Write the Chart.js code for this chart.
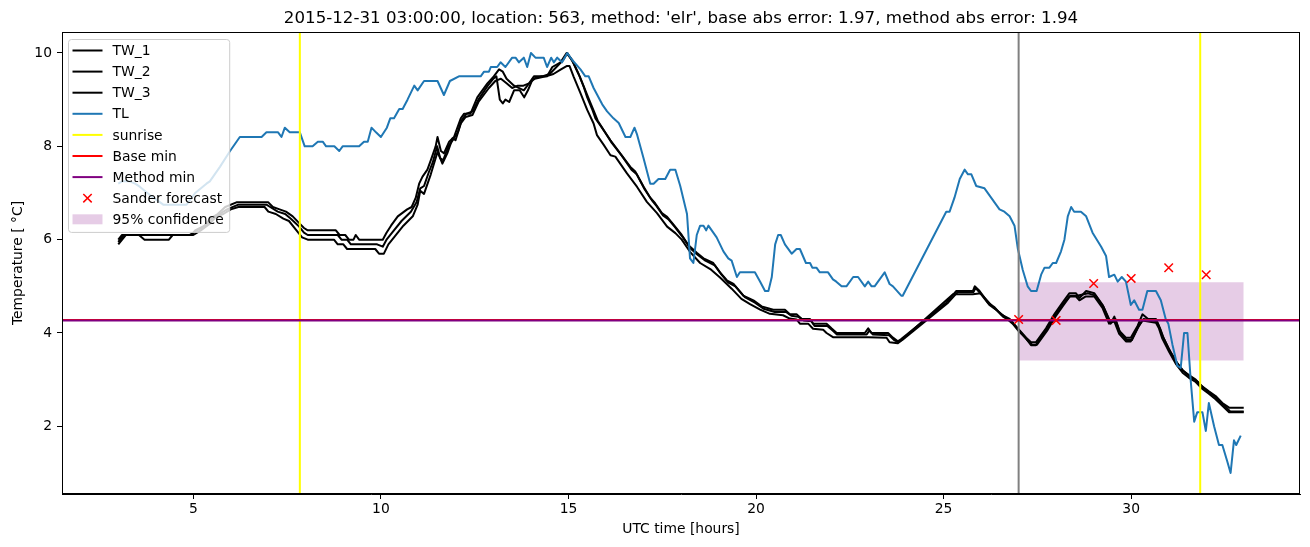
<!DOCTYPE html>
<html>
<head>
<meta charset="utf-8">
<script src="https://cdn.jsdelivr.net/npm/chart.js@4.4.0/dist/chart.umd.min.js"></script>
<style>html,body{margin:0;padding:0;background:#fff;}canvas{display:block;}</style>
</head>
<body>
<canvas id="c" width="1310" height="547"></canvas>
<script>
const titleText = "2015-12-31 03:00:00, location: 563, method: 'elr', base abs error: 1.97, method abs error: 1.94";
const xLabel = "UTC time [hours]";
const yLabel = "Temperature [ \u00B0C]";
const xTicks = [5, 10, 15, 20, 25, 30];
const yTicks = [2, 4, 6, 8, 10];
const xRange = [1.5, 34.5];
const yRange = [0.55, 10.45];

const tlTime = [3.00,3.10,3.30,3.45,3.58,3.85,4.20,4.82,5.05,5.35,5.44,5.71,5.98,6.24,6.82,6.95,7.26,7.35,7.44,7.57,7.84,7.97,8.18,8.32,8.45,8.54,8.76,8.89,8.98,9.42,9.55,9.65,9.75,9.87,10.00,10.16,10.25,10.35,10.49,10.58,10.71,10.89,10.98,11.15,11.51,11.68,11.84,12.08,12.66,12.75,12.88,12.93,13.10,13.19,13.32,13.50,13.59,13.68,13.81,13.90,14.00,14.12,14.34,14.43,14.54,14.61,14.70,14.83,14.97,15.10,15.32,15.45,15.54,15.67,15.90,16.03,16.20,16.34,16.52,16.65,16.76,16.83,17.00,17.18,17.27,17.40,17.58,17.71,17.85,17.98,18.16,18.24,18.33,18.42,18.51,18.60,18.67,18.73,18.95,19.13,19.26,19.35,19.49,19.57,19.97,20.11,20.24,20.33,20.42,20.51,20.59,20.66,20.77,20.95,21.08,21.17,21.33,21.44,21.50,21.61,21.70,21.92,22.05,22.14,22.28,22.41,22.59,22.72,22.90,22.99,23.08,23.16,23.43,23.56,23.65,23.87,23.91,25.07,25.16,25.29,25.43,25.56,25.65,25.74,25.87,26.09,26.49,26.62,26.76,26.89,26.98,27.11,27.24,27.33,27.48,27.60,27.69,27.82,27.91,28.00,28.13,28.22,28.31,28.40,28.48,28.66,28.80,28.97,29.20,29.33,29.41,29.55,29.64,29.75,29.86,29.99,30.08,30.21,30.30,30.43,30.52,30.66,30.79,30.92,30.99,31.10,31.23,31.32,31.41,31.50,31.59,31.68,31.76,31.90,31.99,32.07,32.21,32.34,32.43,32.56,32.65,32.74,32.80,32.92];
const tlTemp = [7.2,7.25,7.25,7.2,7.13,6.95,6.75,6.75,7.0,7.2,7.25,7.56,7.9,8.2,8.2,8.3,8.3,8.2,8.4,8.3,8.3,8.0,8.0,8.1,8.1,8.0,8.0,7.9,8.0,8.0,8.1,8.1,8.4,8.3,8.2,8.4,8.6,8.6,8.8,8.8,9.0,9.3,9.2,9.4,9.4,9.1,9.4,9.5,9.5,9.6,9.6,9.7,9.7,9.8,9.7,9.9,9.9,9.8,9.9,9.7,10.0,9.9,9.9,9.7,9.9,9.8,9.9,9.8,10.0,9.85,9.65,9.5,9.5,9.25,8.9,8.75,8.6,8.5,8.2,8.2,8.4,8.25,7.75,7.2,7.2,7.3,7.3,7.5,7.5,7.15,6.55,5.6,5.5,6.1,6.3,6.3,6.2,6.3,6.05,5.75,5.6,5.55,5.2,5.3,5.3,5.1,4.9,4.9,5.2,5.9,6.1,6.1,5.9,5.7,5.8,5.8,5.5,5.5,5.4,5.4,5.3,5.3,5.15,5.1,5.0,5.0,5.2,5.2,5.0,5.1,5.0,5.0,5.3,5.05,5.0,4.8,4.8,6.6,6.6,6.9,7.3,7.5,7.4,7.4,7.15,7.1,6.65,6.6,6.5,6.3,5.8,5.35,5.0,4.9,4.9,5.25,5.4,5.4,5.5,5.5,5.75,6.0,6.5,6.7,6.6,6.6,6.5,6.15,5.85,5.65,5.2,5.25,5.1,5.2,5.1,4.6,4.7,4.5,4.5,4.9,4.9,4.9,4.7,4.3,4.2,3.75,3.3,3.25,4.0,4.0,2.95,2.1,2.3,2.3,1.9,2.5,2.0,1.6,1.6,1.25,1.0,1.7,1.6,1.8];

const tw1Time = [3.00,3.15,4.95,5.05,5.30,5.45,5.65,5.85,6.15,7.00,7.12,7.30,7.47,7.65,7.83,7.95,8.05,8.80,8.90,9.05,9.15,9.27,9.33,9.42,10.05,10.15,10.27,10.45,10.70,10.82,10.93,11.02,11.11,11.24,11.33,11.46,11.51,11.60,11.68,11.82,11.95,12.04,12.13,12.22,12.39,12.57,12.84,13.01,13.15,13.25,13.35,13.55,13.81,13.95,14.08,14.43,14.57,14.79,14.95,15.10,15.27,15.41,15.50,15.63,15.72,15.85,16.12,16.38,16.65,16.78,17.00,17.18,17.31,17.49,17.63,17.80,18.02,18.20,18.42,18.60,18.86,19.04,19.22,19.40,19.66,19.93,20.15,20.46,20.77,20.90,21.08,21.22,21.44,21.52,21.88,22.01,22.15,22.90,22.99,23.08,23.52,23.65,23.78,23.87,25.07,25.34,25.78,25.83,25.96,26.18,26.36,26.53,26.76,26.98,27.20,27.33,27.46,27.73,27.95,28.17,28.35,28.53,28.62,28.80,29.02,29.24,29.45,29.55,29.68,29.86,29.99,30.17,30.30,30.45,30.66,30.74,30.83,31.01,31.19,31.37,31.54,31.72,31.90,32.07,32.25,32.43,32.61,33.00];
const tw1Temp = [5.95,6.1,6.1,6.2,6.3,6.45,6.55,6.7,6.8,6.8,6.7,6.65,6.6,6.5,6.35,6.25,6.2,6.2,6.1,6.1,6.0,6.0,6.1,6.0,6.0,6.15,6.3,6.5,6.65,6.7,6.9,7.2,7.35,7.5,7.7,8.0,8.2,7.9,7.85,8.1,8.2,8.4,8.6,8.7,8.7,9.05,9.35,9.5,9.65,9.6,9.45,9.3,9.2,9.35,9.5,9.5,9.7,9.8,10.0,9.85,9.55,9.27,9.05,8.8,8.6,8.45,8.13,7.85,7.56,7.46,7.14,6.9,6.78,6.57,6.49,6.32,6.1,5.88,5.72,5.6,5.5,5.3,5.13,5.05,4.8,4.7,4.57,4.5,4.5,4.4,4.4,4.3,4.3,4.2,4.2,4.1,4.0,4.0,4.1,4.0,4.0,3.9,3.82,3.87,4.65,4.9,4.9,5.0,4.9,4.65,4.55,4.4,4.3,4.1,3.9,3.8,3.8,4.1,4.4,4.65,4.85,4.85,4.75,4.9,4.85,4.6,4.2,4.35,4.05,3.9,3.9,4.15,4.4,4.3,4.3,4.15,3.95,3.65,3.4,3.2,3.1,3.0,2.85,2.75,2.65,2.5,2.4,2.4];

const tw2Time = [3.00,3.10,4.90,5.10,5.35,5.50,5.70,5.90,6.20,6.95,7.05,7.25,7.45,7.60,7.80,7.95,8.05,8.85,8.95,9.10,9.20,9.90,10.05,10.15,10.30,10.55,10.80,10.95,11.05,11.15,11.28,11.38,11.50,11.58,11.66,11.80,11.93,12.05,12.15,12.28,12.45,12.60,12.85,13.00,13.08,13.17,13.25,13.32,13.42,13.55,13.70,13.82,13.92,14.05,14.30,14.50,14.68,14.86,14.97,15.12,15.30,15.45,15.55,15.68,15.78,15.90,16.15,16.42,16.68,16.82,17.03,17.22,17.35,17.52,17.66,17.84,18.05,18.24,18.45,18.65,18.90,19.08,19.26,19.45,19.70,19.97,20.20,20.50,20.80,20.94,21.12,21.27,21.48,21.56,21.90,22.05,22.15,22.95,23.02,23.11,23.55,23.68,23.80,23.90,25.12,25.38,25.80,25.85,25.98,26.22,26.40,26.58,26.80,27.02,27.23,27.36,27.49,27.76,27.98,28.20,28.38,28.56,28.85,29.05,29.27,29.44,29.58,29.71,29.88,30.02,30.20,30.33,30.68,30.77,30.86,31.04,31.22,31.40,31.57,31.75,31.93,32.10,32.28,32.46,32.64,33.00];
const tw2Temp = [6.0,6.1,6.1,6.2,6.3,6.45,6.55,6.65,6.75,6.75,6.7,6.6,6.55,6.45,6.3,6.15,6.1,6.1,6.0,6.0,5.9,5.9,5.85,6.0,6.15,6.4,6.6,6.8,7.1,7.15,7.45,7.65,8.0,7.75,7.7,8.0,8.15,8.3,8.55,8.7,8.75,9.0,9.3,9.45,9.5,9.0,8.92,9.0,8.95,9.2,9.2,9.05,9.2,9.45,9.5,9.55,9.7,9.85,10.0,9.8,9.5,9.2,9.0,8.75,8.55,8.4,8.08,7.8,7.5,7.4,7.08,6.85,6.72,6.52,6.44,6.27,6.05,5.82,5.67,5.55,5.45,5.25,5.08,5.0,4.77,4.65,4.52,4.45,4.45,4.37,4.35,4.27,4.25,4.15,4.15,4.05,3.97,3.97,4.05,3.97,3.95,3.85,3.8,3.85,4.65,4.88,4.88,4.97,4.85,4.6,4.5,4.35,4.25,4.05,3.85,3.75,3.75,4.05,4.35,4.6,4.8,4.8,4.85,4.8,4.55,4.25,4.3,4.0,3.85,3.85,4.15,4.3,4.25,4.1,3.9,3.6,3.36,3.18,3.06,2.97,2.82,2.72,2.6,2.46,2.32,2.32];

const tw3Time = [3.00,3.20,3.55,3.70,4.35,4.45,5.00,5.20,5.45,5.62,5.80,6.00,6.20,6.90,7.00,7.20,7.40,7.55,7.75,7.90,8.05,8.75,8.85,9.00,9.10,9.85,9.95,10.08,10.20,10.35,10.60,10.85,10.98,11.05,11.15,11.33,11.51,11.64,11.77,11.91,11.99,12.13,12.26,12.44,12.60,12.88,13.05,13.20,13.35,13.50,13.65,13.80,13.95,14.10,14.40,14.60,14.80,14.95,15.03,15.14,15.32,15.50,15.67,15.76,15.94,16.12,16.25,16.56,16.83,17.09,17.36,17.63,17.85,18.02,18.24,18.51,18.78,19.04,19.35,19.61,19.84,20.11,20.37,20.72,20.90,21.08,21.17,21.39,21.52,21.79,21.88,22.05,22.99,23.48,23.56,23.78,23.91,25.25,25.78,25.99,26.31,26.58,26.84,26.98,27.20,27.33,27.46,27.73,27.95,28.17,28.35,28.53,28.62,28.78,29.02,29.24,29.41,29.55,29.68,29.86,29.99,30.17,30.30,30.66,30.74,30.83,31.01,31.19,31.37,31.54,31.72,31.90,32.07,32.25,32.43,32.61,33.00];
const tw3Temp = [5.9,6.1,6.1,6.0,6.0,6.1,6.1,6.2,6.35,6.5,6.55,6.65,6.7,6.7,6.6,6.55,6.45,6.4,6.2,6.05,6.0,6.0,5.9,5.9,5.8,5.8,5.7,5.7,5.9,6.05,6.3,6.5,6.75,7.05,6.98,7.4,7.88,7.63,7.85,8.17,8.13,8.49,8.63,8.67,8.95,9.25,9.4,9.45,9.35,9.25,9.3,9.3,9.35,9.45,9.5,9.55,9.65,9.72,9.72,9.49,9.14,8.78,8.49,8.24,8.03,7.81,7.78,7.42,7.13,6.81,6.57,6.28,6.14,6.0,5.74,5.5,5.37,5.19,4.95,4.73,4.62,4.5,4.41,4.38,4.31,4.29,4.2,4.2,4.09,4.07,4.0,3.91,3.91,3.9,3.8,3.78,3.87,4.83,4.83,4.85,4.56,4.38,4.2,4.06,3.88,3.74,3.74,4.06,4.35,4.6,4.78,4.78,4.7,4.78,4.78,4.53,4.2,4.25,3.98,3.82,3.82,4.1,4.27,4.22,4.1,3.88,3.6,3.34,3.15,3.04,2.95,2.8,2.7,2.58,2.44,2.3,2.3];

const sunriseTimes = [7.84, 31.84];
const forecastTime = 27.0;
const baseMin = 4.28;
const methodMin = 4.27;
const sanderTime = [27, 28, 29, 30, 31, 32];
const sanderTemp = [4.29, 4.27, 5.06, 5.17, 5.40, 5.25];
const confTime = [27, 33];
const confLow = 3.41;
const confHigh = 5.09;

const FONT = "DejaVu Sans";
const pts = (xs, ys) => xs.map((x, i) => ({x: x, y: ys[i]}));
const line = (label, data, color, width, order, legendKind) => ({
  label: label, data: data, borderColor: color, backgroundColor: color,
  borderWidth: width, pointRadius: 0, tension: 0, fill: false, order: order,
  borderJoinStyle: 'round', borderCapStyle: 'butt', legendKind: legendKind
});

const datasets = [
  line('TW_1', pts(tw1Time, tw1Temp), '#000000', 2, 9, 'line'),
  line('TW_2', pts(tw2Time, tw2Temp), '#000000', 2, 8, 'line'),
  line('TW_3', pts(tw3Time, tw3Temp), '#000000', 2, 7, 'line'),
  line('TL', pts(tlTime, tlTemp), '#1f77b4', 2, 6, 'line'),
  line('sunrise', pts([sunriseTimes[0], sunriseTimes[0]], yRange), '#ffff00', 2, 4, 'line'),
  line('sunrise2', pts([sunriseTimes[1], sunriseTimes[1]], yRange), '#ffff00', 2, 4, null),
  line('forecast', pts([forecastTime, forecastTime], yRange), '#808080', 2, 5, null),
  line('Base min', pts(xRange, [baseMin, baseMin]), '#ff0000', 2, 3, 'line'),
  line('Method min', pts(xRange, [methodMin, methodMin]), '#800080', 2, 2, 'line'),
  {label: 'Sander forecast', data: pts(sanderTime, sanderTemp), showLine: false,
   pointStyle: 'crossRot', pointRadius: 6, pointBorderWidth: 1.5, pointHoverRadius: 6,
   borderColor: '#ff0000', backgroundColor: '#ff0000', order: 1, legendKind: 'marker'},
  {label: '95% confidence', data: pts(confTime, [confHigh, confHigh]), borderWidth: 0,
   pointRadius: 0, borderColor: 'rgba(0,0,0,0)', backgroundColor: 'rgba(128,0,128,0.2)',
   fill: {value: confLow}, order: 10, legendKind: 'patch'}
];

const framePlugin = {
  id: 'frame',
  afterDraw(chart) {
    const {ctx, chartArea: a} = chart;
    ctx.save();
    ctx.strokeStyle = '#000';
    ctx.lineWidth = 1;
    ctx.strokeRect(Math.round(a.left) + 0.5, Math.round(a.top) + 0.5, Math.round(a.right - a.left) - 1, Math.round(a.bottom - a.top) - 1);
    ctx.fillStyle = '#000';
    ctx.font = '16.67px "' + FONT + '"';
    ctx.textAlign = 'center';
    ctx.textBaseline = 'alphabetic';
    ctx.fillText(titleText, (a.left + a.right) / 2, a.top - 9);
    ctx.restore();
  }
};

const legendPlugin = {
  id: 'mplLegend',
  afterDatasetsDraw(chart) {
    const {ctx, chartArea: a} = chart;
    const items = chart.data.datasets.filter(d => d.legendKind);
    const fs = 13.89;
    ctx.save();
    ctx.font = fs + 'px "' + FONT + '"';
    let maxW = 0;
    items.forEach(d => { maxW = Math.max(maxW, ctx.measureText(d.label).width); });
    const bx = a.left + 6.5, by = a.top + 7.5;
    const step = 21.1;
    const hx0 = bx + 4, hx1 = bx + 34, tx = bx + 44;
    const bw = tx - bx + maxW + 6;
    const bh = items.length * step + 3;
    const r = 3;
    ctx.beginPath();
    ctx.moveTo(bx + r, by);
    ctx.lineTo(bx + bw - r, by); ctx.arcTo(bx + bw, by, bx + bw, by + r, r);
    ctx.lineTo(bx + bw, by + bh - r); ctx.arcTo(bx + bw, by + bh, bx + bw - r, by + bh, r);
    ctx.lineTo(bx + r, by + bh); ctx.arcTo(bx, by + bh, bx, by + bh - r, r);
    ctx.lineTo(bx, by + r); ctx.arcTo(bx, by, bx + r, by, r);
    ctx.closePath();
    ctx.fillStyle = 'rgba(255,255,255,0.8)';
    ctx.fill();
    ctx.strokeStyle = '#cccccc';
    ctx.lineWidth = 1;
    ctx.stroke();
    items.forEach((d, i) => {
      const cy = by + 11 + i * step;
      if (d.legendKind === 'line') {
        ctx.strokeStyle = d.borderColor; ctx.lineWidth = 2;
        ctx.beginPath(); ctx.moveTo(hx0, cy); ctx.lineTo(hx1, cy); ctx.stroke();
      } else if (d.legendKind === 'marker') {
        const cx = (hx0 + hx1) / 2, s = 4.2;
        ctx.strokeStyle = d.borderColor; ctx.lineWidth = 1.5;
        ctx.beginPath();
        ctx.moveTo(cx - s, cy - s); ctx.lineTo(cx + s, cy + s);
        ctx.moveTo(cx - s, cy + s); ctx.lineTo(cx + s, cy - s);
        ctx.stroke();
      } else if (d.legendKind === 'patch') {
        ctx.fillStyle = d.backgroundColor;
        ctx.fillRect(hx0, cy - 5, hx1 - hx0, 10);
      }
      ctx.fillStyle = '#000';
      ctx.textAlign = 'left';
      ctx.textBaseline = 'middle';
      ctx.fillText(d.label, tx, cy + 1);
    });
    ctx.restore();
  }
};

new Chart(document.getElementById('c'), {
  type: 'line',
  data: {datasets: datasets},
  options: {
    responsive: false,
    animation: false,
    devicePixelRatio: 1,
    events: [],
    layout: {padding: {left: 0, top: 32, right: 10, bottom: 0}},
    plugins: {legend: {display: false}, tooltip: {enabled: false}, title: {display: false}},
    scales: {
      x: {
        type: 'linear', min: xRange[0], max: xRange[1],
        afterBuildTicks: s => { s.ticks = xTicks.map(v => ({value: v})); },
        afterFit: s => { s.height = 53; },
        ticks: {color: '#000', font: {family: FONT, size: 13.89}, padding: 2, maxRotation: 0,
                callback: v => String(v)},
        grid: {drawOnChartArea: false, drawTicks: true, tickLength: 5, tickWidth: 1, tickColor: '#000'},
        border: {display: true, color: '#000', width: 1},
        title: {display: true, text: xLabel, color: '#000', font: {family: FONT, size: 13.89}, padding: {top: 0, bottom: 9}}
      },
      y: {
        type: 'linear', min: yRange[0], max: yRange[1],
        afterBuildTicks: s => { s.ticks = yTicks.map(v => ({value: v})); },
        afterFit: s => { s.width = 62; },
        ticks: {color: '#000', font: {family: FONT, size: 13.89}, padding: 5, callback: v => String(v)},
        grid: {drawOnChartArea: false, drawTicks: true, tickLength: 5, tickWidth: 1, tickColor: '#000'},
        border: {display: true, color: '#000', width: 1},
        title: {display: true, text: yLabel, color: '#000', font: {family: FONT, size: 13.89}, padding: {top: 10, bottom: 0}}
      }
    }
  },
  plugins: [legendPlugin, framePlugin]
});
</script>
</body>
</html>
